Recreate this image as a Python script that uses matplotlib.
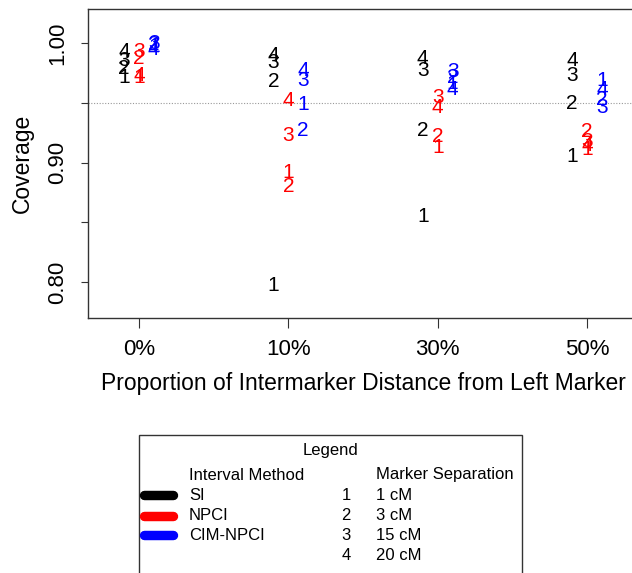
import matplotlib
matplotlib.use("Agg")
from matplotlib import pyplot as plt
from matplotlib.lines import Line2D

plt.rcParams['font.family'] = ['Liberation Sans', 'DejaVu Sans']

# data
positions = ['0%', '10%', '30%', '50%']
methods = ['SI', 'NPCI', 'CIM-NPCI']
method_colors = ['black', '#ff0000', '#0000ff']
separation_codes = ['1', '2', '3', '4']
separations = ['1 cM', '3 cM', '15 cM', '20 cM']
nominal = 0.95

# coverage per method, one list per marker separation, values by position
si_cov = [
	[0.971, 0.797, 0.855, 0.905],
	[0.979, 0.968, 0.927, 0.9495],
	[0.985, 0.984, 0.977, 0.973],
	[0.993, 0.990, 0.987, 0.985],
]
npci_cov = [
	[0.971, 0.892, 0.913, 0.911],
	[0.987, 0.880, 0.922, 0.926],
	[0.993, 0.923, 0.9545, 0.918],
	[0.973, 0.952, 0.946, 0.914],
]
cim_cov = [
	[0.997, 0.949, 0.966, 0.969],
	[0.999, 0.927, 0.971, 0.953],
	[1.000, 0.969, 0.976, 0.946],
	[0.995, 0.977, 0.961, 0.961],
]
coverage = [si_cov, npci_cov, cim_cov]

W, H = 632, 573
DPI = 100
LABELSIZE = 16.5
TICKSIZE = 16
LEGENDSIZE = 12

def fx(px):
	return px / W

def fy(py):
	return 1 - py / H

fig = plt.figure(figsize=(W / DPI, H / DPI), dpi=DPI)
ax = fig.add_axes([fx(88), fy(318), (638 - 88) / W, (318 - 9) / H])

OFFSET = 0.1
for m, cov in enumerate(coverage):
	dx = (m - 1) * OFFSET
	for s, vals in enumerate(cov):
		for g, v in enumerate(vals):
			ax.text(g + dx, v, separation_codes[s], color=method_colors[m],
				fontsize=15, ha='center', va='center')

ax.axhline(nominal, color='#999999', linestyle=(0, (1, 1.5)), linewidth=0.8)

ax.set_xlim(-0.34, 3.34)
ax.set_ylim(0.770, 1.0285)
ax.set_xticks(range(len(positions)))
ax.set_xticklabels(positions)
ax.set_yticks([0.80, 0.85, 0.90, 0.95, 1.00])
ax.set_yticklabels(['0.80', '', '0.90', '', '1.00'], rotation=90, va='center')
ax.tick_params(axis='x', length=7, width=0.8, pad=8, labelsize=TICKSIZE, color='#333333')
ax.tick_params(axis='y', length=5, width=0.8, pad=9, labelsize=TICKSIZE, color='#333333')
for sp in ax.spines.values():
	sp.set_color('#333333')
	sp.set_linewidth(1.0)

ax.set_xlabel('Proportion of Intermarker Distance from Left Marker', fontsize=LABELSIZE, labelpad=9)
ax.set_ylabel('Coverage', fontsize=LABELSIZE, labelpad=10)

# legend box drawn in figure pixels
box = plt.Rectangle((fx(139), fy(600)), fx(522) - fx(139), fy(435) - fy(600),
	transform=fig.transFigure, fill=False, edgecolor='#333333', linewidth=1.0)
fig.add_artist(box)
fig.text(fx(330), fy(450), 'Legend', fontsize=LEGENDSIZE, ha='center', va='center')
fig.text(fx(189), fy(475), 'Interval Method', fontsize=LEGENDSIZE, ha='left', va='center')
fig.text(fx(376), fy(475), 'Marker Separation', fontsize=LEGENDSIZE, ha='left', va='center')
row_y = [495, 515.5, 535, 556]
for i, (name, col) in enumerate(zip(methods, method_colors)):
	fig.add_artist(Line2D([fx(144), fx(173)], [fy(row_y[i])] * 2, transform=fig.transFigure,
		color=col, linewidth=6.8, solid_capstyle='round'))
	fig.text(fx(189), fy(row_y[i]), name, fontsize=LEGENDSIZE, ha='left', va='center')
for i, (code, sep) in enumerate(zip(separation_codes, separations)):
	fig.text(fx(346), fy(row_y[i]), code, fontsize=LEGENDSIZE, ha='center', va='center')
	fig.text(fx(376), fy(row_y[i]), sep, fontsize=LEGENDSIZE, ha='left', va='center')

fig.savefig('out.png', dpi=DPI)
